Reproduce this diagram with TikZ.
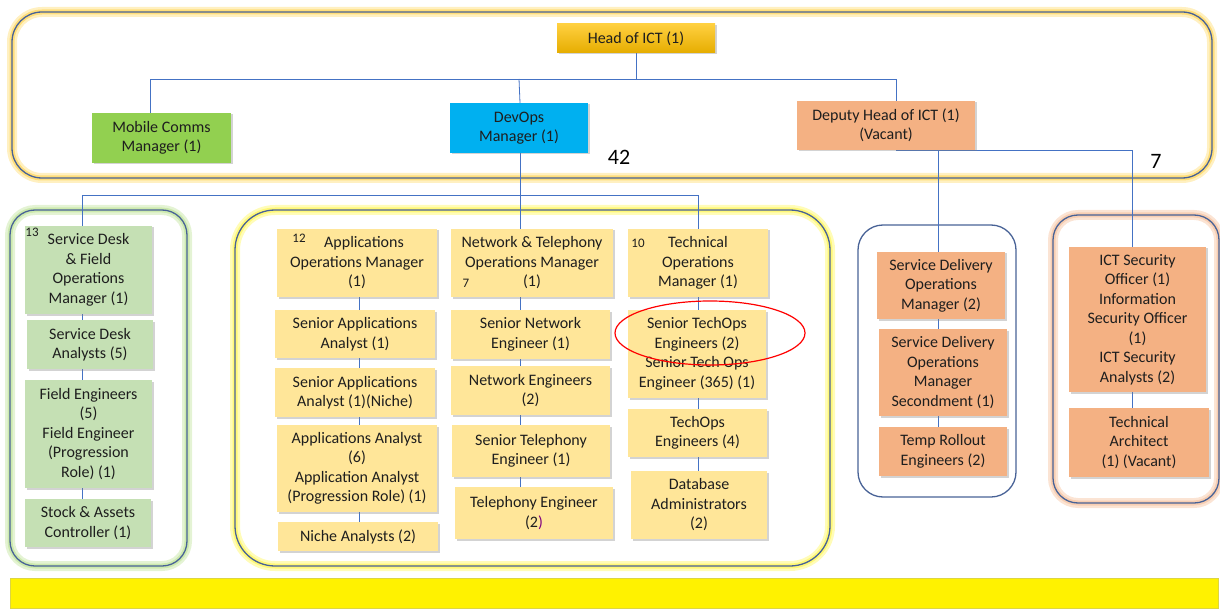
\documentclass[tikz,border=0pt]{standalone}
\usepackage{fontspec}
\setmainfont{Carlito}
\usetikzlibrary{shadows}

\definecolor{ictgold}{RGB}{255,192,0}
\definecolor{mobgreen}{RGB}{146,208,80}
\definecolor{devblue}{RGB}{0,176,240}
\definecolor{deporange}{RGB}{244,177,131}
\definecolor{lgreen}{RGB}{197,224,180}
\definecolor{lyellow}{RGB}{255,230,153}
\definecolor{linkblue}{RGB}{68,114,196}
\definecolor{frameblue}{RGB}{72,98,150}
\definecolor{textgrey}{RGB}{30,30,30}

\pgfdeclarelayer{bg}
\pgfsetlayers{bg,main}

\begin{document}
\begin{tikzpicture}[x=1pt,y=-1pt]
\tikzset{ inner sep=0pt, outer sep=0pt,
  role/.style={draw=none, align=center, text=textgrey,
    font=\fontsize{16}{19.5}\selectfont,
    drop shadow={shadow xshift=1.5pt, shadow yshift=-1.5pt, opacity=.35}},
  flat/.style={drop shadow={opacity=0}},
  bx/.style 2 args={minimum width=#1, minimum height=#2},
  link/.style={linkblue, line width=0.8pt},
  frame/.style={frameblue, line width=1.3pt},
  glow/.style={line width=10pt, #1, opacity=.35},
  innerglow/.style={line width=5pt, #1, opacity=.6},
  tag/.style={text=textgrey, font=\fontsize{13}{13}\selectfont},
  total/.style={text=black, font=\fontsize{22}{22}\selectfont},
}
\useasboundingbox (0,0) rectangle (1220,612);

%\draw [lightgray, dashed](0,0) grid[step=50] (1220,612);

% glows and frames
\begin{pgfonlayer}{bg}
\draw [glow=ictgold!70, rounded corners=30] (12,12) rectangle (1212,178);
\draw [innerglow=ictgold!70, rounded corners=30] (12,12) rectangle (1212,178);
\draw [frame, rounded corners=30] (12,12) rectangle (1212,178);

\draw [glow=mobgreen!70, rounded corners=25] (10,210) rectangle (187,566);
\draw [innerglow=mobgreen!60, rounded corners=25] (10,210) rectangle (187,566);
\draw [frame, rounded corners=25] (10,210) rectangle (187,566);

\draw [glow=yellow!80, rounded corners=40] (235,210) rectangle (830,566);
\draw [innerglow=yellow!70, rounded corners=40] (235,210) rectangle (830,566);
\draw [frame, rounded corners=40] (235,210) rectangle (830,566);

\draw [frame, rounded corners=25] (858,225) rectangle (1016,497);

\draw [glow=deporange, rounded corners=25] (1053,215) rectangle (1219,503);
\draw [innerglow=deporange!80, rounded corners=25] (1053,215) rectangle (1219,503);
\draw [frame, rounded corners=25] (1053,215) rectangle (1219,503);
\end{pgfonlayer}

\fill [yellow, draw=yellow!70!gray] (10,578) rectangle (1218,608);

% top level
\node [role, bx={158}{29}, top color=ictgold!75, bottom color=ictgold!90!black] (head) at (636,38.5) {Head of ICT (1)};
\node [role, bx={139}{50}, fill=mobgreen] (mob) at (161.5,138) {Mobile Comms\\Manager (1)};
\node [role, bx={138}{50}, fill=devblue] (dev) at (519,128) {DevOps\\Manager (1)};
\node [role, bx={178}{49}, fill=deporange] (dep) at (886,125.5) {Deputy Head of ICT (1)\\(Vacant)};

\coordinate (busA) at (636,79);
\coordinate (busB) at (520,195);
\coordinate (busC) at (896,150);

% service desk
\node [role, bx={127}{88}, fill=lgreen] (sdf) at (88.5,270) {Service Desk\\\& Field\\Operations\\Manager (1)};
\node [role, bx={126}{49}, fill=lgreen] (sda) at (90,344.5) {Service Desk\\Analysts (5)};
\node [role, bx={127}{108}, fill=lgreen] (fe) at (88.5,434) {Field Engineers\\(5)\\Field Engineer\\(Progression\\Role) (1)};
\node [role, bx={126}{48}, fill=lgreen] (sac) at (88,523) {Stock \& Assets\\Controller (1)};

% applications
\node [role, bx={160}{68}, fill=lyellow] (aom) at (357,263) {\hspace*{14pt}Applications\\Operations Manager\\(1)};
\node [role, bx={160}{48}, fill=lyellow] (saa) at (355,334) {Senior Applications\\Analyst (1)};
\node [role, bx={160}{49}, fill=lyellow] (san) at (355,392.5) {Senior Applications\\Analyst (1)(Niche)};
\node [role, bx={160}{87}, fill=lyellow] (aa) at (357,468.5) {Applications Analyst\\(6)\\Application Analyst\\(Progression Role) (1)};
\node [role, bx={160}{29}, fill=lyellow] (na) at (358,536.5) {Niche Analysts (2)};

% network
\node [role, bx={162}{68}, fill=lyellow] (ntm) at (532,263) {Network \& Telephony\\Operations Manager\\(1)};
\node [role, bx={159}{49}, fill=lyellow] (sne) at (530.5,334.5) {Senior Network\\Engineer (1)};
\node [role, bx={159}{49}, fill=lyellow] (ne) at (530.5,390.5) {Network Engineers\\(2)};
\node [role, flat, bx={158}{52}, fill=lyellow] (ste) at (531,451) {Senior Telephony\\Engineer (1)};
\node [role, flat, bx={158}{52}, fill=lyellow] (tel) at (534,513) {Telephony Engineer\\(2{\color{violet})}};

% technical operations
\node [role, bx={140}{68}, fill=lyellow] (tom) at (698,263) {Technical\\Operations\\Manager (1)};
\node [role, bx={138}{88}, fill=lyellow] (sto) at (697,354) {Senior TechOps\\Engineers (2)\\Senior Tech Ops\\Engineer (365) (1)};
\node [role, bx={139}{48}, fill=lyellow] (toe) at (697.5,433) {TechOps\\Engineers (4)};
\node [role, bx={136}{68}, fill=lyellow] (dba) at (699,505) {Database\\Administrators\\(2)};

% service delivery
\node [role, bx={128}{67}, fill=deporange] (sdm) at (941,285.5) {Service Delivery\\Operations\\Manager (2)};
\node [role, bx={128}{87}, fill=deporange] (sds) at (943,372.5) {Service Delivery\\Operations\\Manager\\Secondment (1)};
\node [role, bx={128}{49}, fill=deporange] (tre) at (943,451.5) {Temp Rollout\\Engineers (2)};

% security
\node [role, bx={137}{145}, fill=deporange] (ics) at (1137.5,319.5) {ICT Security\\Officer (1)\\Information\\Security Officer\\(1)\\ICT Security\\Analysts (2)};
\node [role, bx={140}{69}, fill=deporange] (ta) at (1139,442.5) {Technical\\Architect\\(1) (Vacant)};

% connectors, behind the boxes
\begin{pgfonlayer}{bg}
\draw [link] (head.south) -- (busA);
\draw [link] (busA) -| ([xshift=-11.5]mob.north);
\draw [link] (busA) -| ([xshift=10]dep.north);
\draw [link] (busA -| dev.north) -- ([xshift=1]dev.north);
\draw [link] ([xshift=1]dev.south) -- (busB);
\draw [link] (busB) -| ([xshift=-6.5]sdf.north);
\draw [link] (busB) -| (tom.north);
\draw [link] (busB) -- (ntm.north -| busB);
\draw [link] (busC) -| ([xshift=-3]sdm.north);
\draw [link] (busC) -| ([xshift=-5.5]ics.north);

\draw [link] ([xshift=-6.5]sdf.south) -- ([xshift=-6]sac.north);
\draw [link] ([xshift=2]aom.south) -- ([xshift=1]na.north);
\draw [link] (ntm.south -| busB) -- (tel.north -| busB);
\draw [link] (tom.south) -- ([xshift=-1]dba.north);
\draw [link] ([xshift=-3]sdm.south) -- ([xshift=-5]tre.north);
\draw [link] ([xshift=-5.5]ics.south) -- ([xshift=-7]ta.north);
\end{pgfonlayer}

% head counts
\node [tag] (n13) at (32,232) {13};
\node [tag] (n12) at (299,238) {12};
\node [tag] (n7) at (466,283) {7};
\node [tag] (n10) at (638,243) {10};
\node [total] (t42) at (619,157) {42};
\node [total] (t7) at (1156,161) {7};

\draw [red, line width=1.2pt] (710,333) ellipse [x radius=95, y radius=32];

\end{tikzpicture}
\end{document}
